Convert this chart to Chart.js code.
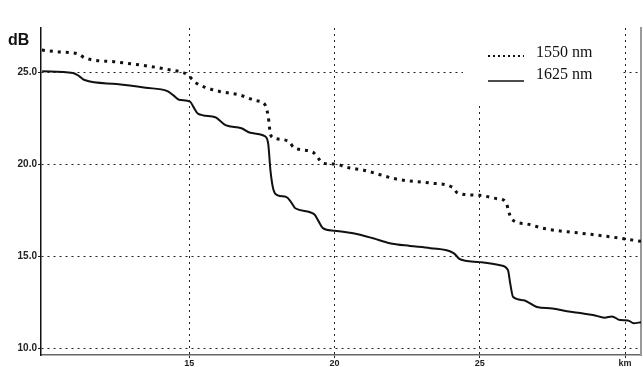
<!DOCTYPE html>
<html>
<head>
<meta charset="utf-8">
<script src="https://cdn.jsdelivr.net/npm/chart.js@4.4.1/dist/chart.umd.min.js"></script>
<style>
  html, body { margin: 0; padding: 0; background: #fff; }
  #wrap { width: 643px; height: 367px; }
</style>
</head>
<body>
<div id="wrap"><canvas id="myChart" width="643" height="367"></canvas></div>
<script>
// distances (km) and attenuation (dB)
var km1550 = [9.93, 10.5, 11.2, 11.4, 12.5, 13.5, 14.35, 14.9, 15.25, 15.6, 16.05, 16.75, 17.3, 17.6,
              17.72, 17.8, 17.95, 18.45, 18.6, 19.25, 19.45, 19.6, 20.0, 20.5, 21.0, 22.15, 23.3,
              24.05, 24.25, 25.0, 25.6, 25.9, 26.0, 26.1, 26.6, 27.3, 28.45, 29.8, 30.55];
var db1550 = [26.2, 26.1, 25.98, 25.78, 25.55, 25.35, 25.12, 24.9, 24.4, 24.15, 23.95, 23.75, 23.45, 23.25,
              22.6, 21.6, 21.4, 21.2, 20.9, 20.65, 20.3, 20.05, 20.0, 19.8, 19.67, 19.18, 18.97,
              18.75, 18.42, 18.3, 18.12, 17.95, 17.4, 17.0, 16.75, 16.47, 16.25, 15.98, 15.8];

var km1625 = [9.94, 11.0, 11.2, 11.4, 12.5, 13.5, 14.25, 14.45, 14.65, 15.03, 15.15, 15.3, 15.9, 16.1,
              16.25, 16.8, 17.1, 17.6, 17.72, 17.8, 17.9, 18.05, 18.35, 18.5, 18.65, 19.3, 19.45,
              19.6, 20.0, 20.6, 21.3, 21.9, 22.6, 23.3, 24.1, 24.3, 24.5, 25.0, 25.7, 25.97, 26.05,
              26.15, 26.5, 26.97, 27.5, 28.0, 28.45, 28.9, 29.3, 29.55, 29.83, 30.1, 30.3, 30.55];
var db1625 = [25.05, 24.95, 24.8, 24.57, 24.35, 24.15, 23.97, 23.75, 23.5, 23.4, 23.1, 22.75, 22.55, 22.3,
              22.12, 21.95, 21.7, 21.52, 21.1, 19.6, 18.6, 18.3, 18.2, 17.95, 17.6, 17.28, 16.9,
              16.52, 16.38, 16.25, 15.98, 15.7, 15.55, 15.43, 15.16, 14.85, 14.75, 14.67, 14.5, 14.24, 13.5,
              12.77, 12.6, 12.23, 12.15, 12.0, 11.9, 11.8, 11.65, 11.72, 11.52, 11.5, 11.35, 11.4];

var seriesNames = ['1550 nm', '1625 nm'];
var yTicks = [10, 15, 20, 25];
var xTicks = [15, 20, 25, 30];
var xUnit = 'km';
var yUnit = 'dB';

function pts(xs, ys) {
    return xs.map(function (x, i) { return {x: x, y: ys[i]}; });
}

var gridDash = [2, 4];

// dB label + legend drawn inside the plot
var extras = {
    id: 'extras',
    afterDraw: function (chart) {
        var ctx = chart.ctx;
        ctx.save();
        ctx.fillStyle = '#111';
        ctx.font = 'bold 16px "Liberation Sans", Arial, sans-serif';
        ctx.textBaseline = 'alphabetic';
        ctx.fillText(yUnit, 8, 45);

        // legend box hides the grid behind it
        ctx.fillStyle = '#fff';
        ctx.fillRect(463, 28, 157, 77);

        var x0 = 488, x1 = 524;
        var lineY = [56, 81];
        var textY = [57, 79];
        ctx.font = '16px "Liberation Serif", "Times New Roman", serif';
        chart.data.datasets.forEach(function (ds, i) {
            ctx.beginPath();
            ctx.strokeStyle = ds.borderColor;
            ctx.lineWidth = i === 0 ? 2 : 1.5;
            ctx.setLineDash(i === 0 ? [2, 3] : []);
            ctx.moveTo(x0, lineY[i]);
            ctx.lineTo(x1, lineY[i]);
            ctx.stroke();
            ctx.setLineDash([]);
            ctx.fillStyle = '#111';
            ctx.fillText(ds.label, 536, textY[i]);
        });
        ctx.restore();
    }
};

var ctx = document.getElementById('myChart').getContext('2d');
var myChart = new Chart(ctx, {
    type: 'scatter',
    data: {
        datasets: [{
            label: seriesNames[0],
            data: pts(km1550, db1550),
            showLine: true,
            borderColor: '#111',
            borderWidth: 3,
            borderDash: [3, 5],
            borderCapStyle: 'butt',
            pointRadius: 0,
            cubicInterpolationMode: 'monotone'
        }, {
            label: seriesNames[1],
            data: pts(km1625, db1625),
            showLine: true,
            borderColor: '#111',
            borderWidth: 2,
            pointRadius: 0,
            cubicInterpolationMode: 'monotone'
        }]
    },
    options: {
        responsive: false,
        animation: false,
        layout: { padding: { left: 0, top: 28, right: 0, bottom: 0 } },
        plugins: {
            legend: { display: false },
            tooltip: { enabled: false }
        },
        scales: {
            x: {
                type: 'linear',
                min: 9.9,
                max: 30.55,
                afterBuildTicks: function (s) {
                    s.ticks = xTicks.map(function (v) { return {value: v}; });
                },
                afterFit: function (s) { s.height = 12; },
                ticks: {
                    padding: 0,
                    maxRotation: 0,
                    color: '#222',
                    font: { family: '"Liberation Sans", Arial, sans-serif', size: 9, weight: 'bold' },
                    callback: function (v) { return v === 30 ? xUnit : v; }
                },
                grid: { color: '#222', lineWidth: 1, tickLength: 3, tickColor: '#222' },
                border: { color: '#666', width: 1.5, dash: gridDash }
            },
            y: {
                type: 'linear',
                min: 9.62,
                max: 27.4,
                afterBuildTicks: function (s) {
                    s.ticks = yTicks.map(function (v) { return {value: v}; });
                },
                afterFit: function (s) { s.width = 41; },
                ticks: {
                    padding: 1,
                    color: '#222',
                    font: { family: '"Liberation Sans", Arial, sans-serif', size: 10, weight: 'bold' },
                    callback: function (v) { return v.toFixed(1); }
                },
                grid: { color: '#222', lineWidth: 1, tickLength: 3, tickColor: '#222' },
                border: { color: '#111', width: 1.5, dash: gridDash }
            },
            yR: {
                type: 'linear',
                position: 'right',
                min: 9.62,
                max: 27.4,
                afterFit: function (s) { s.width = 2; },
                ticks: { display: false },
                grid: { display: false, drawTicks: false },
                border: { color: '#999', width: 2 }
            }
        }
    },
    plugins: [extras]
});
</script>
</body>
</html>
